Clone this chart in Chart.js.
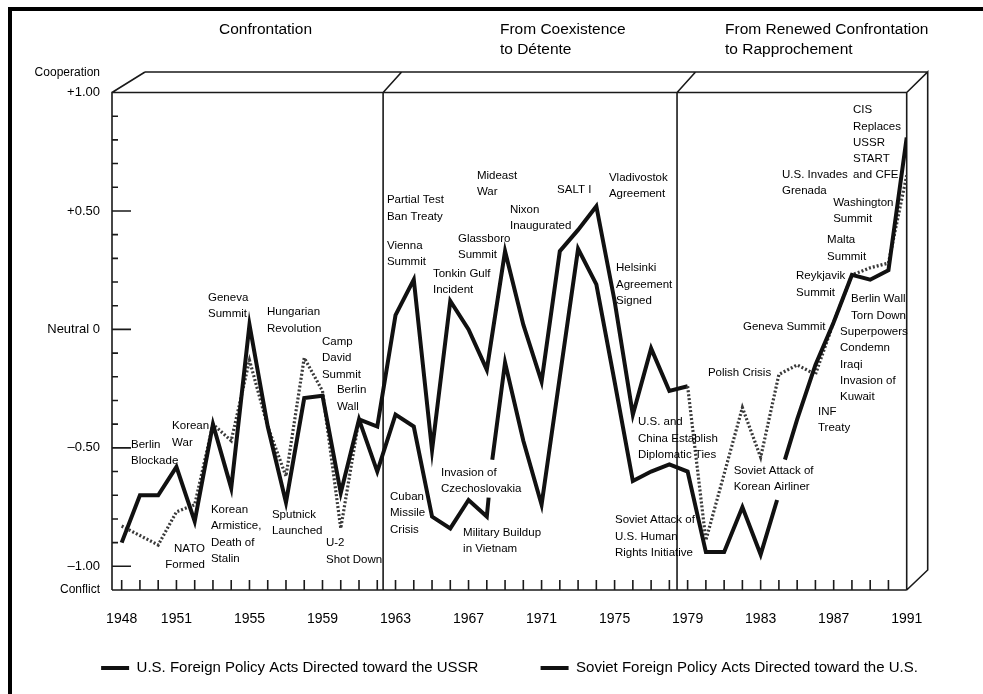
<!DOCTYPE html>
<html>
<head>
<meta charset="utf-8">
<script src="https://cdn.jsdelivr.net/npm/chart.js@4.4.0/dist/chart.umd.min.js"></script>
<style>
  html, body { margin: 0; padding: 0; background: #fff; }
  canvas { display: block; }
</style>
</head>
<body>
<canvas id="chart" width="983" height="694"></canvas>
<script>
// values, -1 = conflict, +1 = cooperation
const sovYears = [1948, 1949, 1950, 1951, 1952, 1953, 1954, 1955, 1956, 1957, 1958, 1959, 1960, 1961,
  1962, 1963, 1964, 1965, 1966, 1967, 1968, 1969, 1970, 1971, 1972, 1973, 1974, 1975, 1976, 1977,
  1978, 1979, 1980, 1981, 1982, 1983, 1984, 1985, 1986, 1987, 1988, 1989, 1990, 1991];
const sovValues = [-0.83, -0.87, -0.91, -0.77, -0.74, -0.40, -0.47, -0.13, -0.41, -0.62, -0.12, -0.26, -0.84, -0.38,
  -0.41, 0.06, 0.21, -0.51, 0.12, 0.00, -0.17, 0.33, 0.02, -0.22, 0.33, 0.42, 0.52, 0.12, -0.36, -0.08,
  -0.26, -0.24, -0.89, -0.61, -0.33, -0.54, -0.19, -0.15, -0.19, 0.03, 0.23, 0.26, 0.28, 0.65];

// the U.S. line has two breaks in the scan (1968 and 1983-84)
const usYears = [1948, 1949, 1950, 1951, 1952, 1953, 1954, 1955, 1956, 1957, 1958, 1959, 1960, 1961,
  1962, 1963, 1964, 1965, 1966, 1967, 1968, 1968.1, 1968.2, 1968.3, 1969, 1970, 1971, 1972, 1973, 1974,
  1975, 1976, 1977, 1978, 1979, 1980, 1981, 1982, 1983, 1983.9, 1984.1, 1984.33, 1985, 1986, 1987,
  1988, 1989, 1990, 1991];
const usValues = [-0.90, -0.70, -0.70, -0.58, -0.81, -0.40, -0.67, 0.02, -0.41, -0.73, -0.29, -0.28, -0.69, -0.38,
  -0.60, -0.36, -0.41, -0.79, -0.84, -0.72, -0.79, -0.71, null, -0.55, -0.14, -0.47, -0.74, -0.20, 0.34, 0.19,
  -0.22, -0.64, -0.60, -0.57, -0.60, -0.94, -0.94, -0.75, -0.95, -0.72, null, -0.55, -0.38, -0.15, 0.03,
  0.23, 0.21, 0.25, 0.81];

const seriesNames = ['U.S. Foreign Policy Acts Directed toward the USSR',
  'Soviet Foreign Policy Acts Directed toward the U.S.'];

const tickYears = [1948, 1951, 1955, 1959, 1963, 1967, 1971, 1975, 1979, 1983, 1987, 1991];
const yTickValues = [-1, -0.5, 0, 0.5, 1];
const yTickText = ['\u20131.00', '\u20130.50', 'Neutral 0', '+0.50', '+1.00'];

const periodBreaks = [1962.32, 1978.42];
const periods = [
  { x: 1953.33, lines: ['Confrontation'] },
  { x: 1968.72, lines: ['From Coexistence', 'to D\u00e9tente'] },
  { x: 1981.05, lines: ['From Renewed Confrontation', 'to Rapprochement'] }
];

// event labels, anchored in year / score units
const notes = [
  { x: 1948.51, y: -0.488, t: ['Berlin', 'Blockade'] },
  { x: 1950.76, y: -0.408, t: ['Korean', 'War'] },
  { x: 1952.56, y: -0.927, t: ['NATO', 'Formed'], align: 'right' },
  { x: 1952.73, y: 0.133, t: ['Geneva', 'Summit'] },
  { x: 1955.96, y: 0.073, t: ['Hungarian', 'Revolution'] },
  { x: 1952.89, y: -0.762, t: ['Korean', 'Armistice,', 'Death of', 'Stalin'] },
  { x: 1956.23, y: -0.783, t: ['Sputnick', 'Launched'] },
  { x: 1958.97, y: -0.053, t: ['Camp', 'David', 'Summit'] },
  { x: 1959.79, y: -0.256, t: ['Berlin', 'Wall'] },
  { x: 1959.19, y: -0.902, t: ['U-2', 'Shot Down'] },
  { x: 1962.53, y: 0.546, t: ['Partial Test', 'Ban Treaty'] },
  { x: 1962.53, y: 0.352, t: ['Vienna', 'Summit'] },
  { x: 1965.05, y: 0.234, t: ['Tonkin Gulf', 'Incident'] },
  { x: 1966.42, y: 0.382, t: ['Glassboro', 'Summit'] },
  { x: 1967.46, y: 0.648, t: ['Mideast', 'War'] },
  { x: 1969.27, y: 0.504, t: ['Nixon', 'Inaugurated'] },
  { x: 1971.85, y: 0.588, t: ['SALT I'] },
  { x: 1974.69, y: 0.639, t: ['Vladivostok', 'Agreement'] },
  { x: 1975.08, y: 0.259, t: ['Helsinki', 'Agreement', 'Signed'] },
  { x: 1976.28, y: -0.391, t: ['U.S. and', 'China Establish', 'Diplomatic Ties'] },
  { x: 1965.49, y: -0.606, t: ['Invasion of', 'Czechoslovakia'] },
  { x: 1962.70, y: -0.707, t: ['Cuban', 'Missile', 'Crisis'] },
  { x: 1966.70, y: -0.859, t: ['Military Buildup', 'in Vietnam'] },
  { x: 1975.02, y: -0.805, t: ['Soviet Attack of', 'U.S. Human', 'Rights Initiative'] },
  { x: 1988.06, y: 0.926, t: ['CIS', 'Replaces', 'USSR', 'START', 'and CFE'] },
  { x: 1984.17, y: 0.652, t: ['U.S. Invades', 'Grenada'] },
  { x: 1986.97, y: 0.534, t: ['Washington', 'Summit'] },
  { x: 1986.64, y: 0.377, t: ['Malta', 'Summit'] },
  { x: 1984.94, y: 0.225, t: ['Reykjavik', 'Summit'] },
  { x: 1987.95, y: 0.128, t: ['Berlin Wall', 'Torn Down'] },
  { x: 1987.35, y: -0.011, t: ['Superpowers', 'Condemn', 'Iraqi', 'Invasion of', 'Kuwait'] },
  { x: 1982.03, y: 0.010, t: ['Geneva Summit'] },
  { x: 1980.11, y: -0.184, t: ['Polish Crisis'] },
  { x: 1986.14, y: -0.348, t: ['INF', 'Treaty'] },
  { x: 1981.52, y: -0.597, t: ['Soviet Attack of', 'Korean Airliner'] }
];

const FONT = '"Liberation Sans", Arial, sans-serif';
Chart.defaults.font.family = FONT;
Chart.defaults.color = '#000';

const toPoints = (xs, ys) => xs.map((x, i) => ({ x: x, y: ys[i] }));

// the soviet line is solid through the middle period, hatched elsewhere
const inMiddle = ctx => ctx.p0.parsed.x >= 1961 && ctx.p1.parsed.x <= 1979;

const boxPlugin = {
  id: 'box',
  beforeDatasetsDraw(chart) {
    const { ctx, chartArea: a, scales: { x, y } } = chart;
    const top = a.top, bot = a.bottom, left = a.left, right = a.right;
    const backTop = top - 20.5;
    ctx.save();
    ctx.strokeStyle = '#1a1a1a';
    ctx.lineWidth = 1.6;
    ctx.beginPath();
    // front face
    ctx.moveTo(left, bot); ctx.lineTo(left, top); ctx.lineTo(right, top); ctx.lineTo(right, bot);
    ctx.moveTo(left, bot); ctx.lineTo(right, bot);
    // back edge and depth lines
    ctx.moveTo(left + 33, backTop); ctx.lineTo(right + 21, backTop);
    ctx.moveTo(left, top); ctx.lineTo(left + 33, backTop);
    ctx.moveTo(right, top); ctx.lineTo(right + 21, backTop);
    ctx.lineTo(right + 21, bot - 20); ctx.lineTo(right, bot);
    periodBreaks.forEach(b => {
      const px = x.getPixelForValue(b);
      ctx.moveTo(px, bot); ctx.lineTo(px, top); ctx.lineTo(px + 18.5, backTop);
    });
    // inward ticks
    for (let i = -10; i <= 10; i++) {
      const py = y.getPixelForValue(i / 10);
      ctx.moveTo(left, py); ctx.lineTo(left + (i % 5 === 0 ? 19 : 6), py);
    }
    for (let yr = 1948; yr <= 1990; yr++) {
      const px = x.getPixelForValue(yr);
      ctx.moveTo(px, bot); ctx.lineTo(px, bot - 10);
    }
    ctx.stroke();
    ctx.restore();
  },
  afterDraw(chart) {
    const { ctx, scales: { x, y } } = chart;
    ctx.save();
    // page frame
    ctx.strokeStyle = '#000';
    ctx.lineWidth = 4;
    ctx.beginPath();
    ctx.moveTo(10, 694); ctx.lineTo(10, 9); ctx.lineTo(983, 9);
    ctx.stroke();

    ctx.fillStyle = '#000';
    ctx.textBaseline = 'middle';
    // period headings
    ctx.font = '15.5px ' + FONT;
    ctx.textAlign = 'left';
    periods.forEach(p => {
      p.lines.forEach((s, k) => ctx.fillText(s, x.getPixelForValue(p.x), 30 + k * 20));
    });
    // axis end words
    ctx.font = '12px ' + FONT;
    ctx.textAlign = 'right';
    ctx.fillText('Cooperation', 100, y.getPixelForValue(1.082));
    ctx.fillText('Conflict', 100, y.getPixelForValue(-1.1));
    // event labels
    ctx.font = '11.5px ' + FONT;
    notes.forEach(n => {
      ctx.textAlign = n.align || 'left';
      const px = x.getPixelForValue(n.x);
      const py = y.getPixelForValue(n.y);
      n.t.forEach((s, k) => ctx.fillText(s, px, py + k * 16.3));
    });
    ctx.restore();
  }
};

new Chart(document.getElementById('chart'), {
  type: 'line',
  data: {
    datasets: [
      {
        label: seriesNames[0],
        data: toPoints(usYears, usValues),
        borderColor: '#111',
        backgroundColor: '#111',
        borderWidth: 4,
        pointRadius: 0,
        tension: 0,
        spanGaps: false
      },
      {
        label: seriesNames[1],
        data: toPoints(sovYears, sovValues),
        borderColor: '#3a3a3a',
        backgroundColor: '#111',
        borderWidth: 3.2,
        borderDash: [2, 2],
        pointRadius: 0,
        tension: 0,
        segment: {
          borderColor: c => inMiddle(c) ? '#111' : '#3a3a3a',
          borderDash: c => inMiddle(c) ? [] : [2, 2],
          borderWidth: c => inMiddle(c) ? 4 : 3.2
        }
      }
    ]
  },
  options: {
    responsive: false,
    animation: false,
    devicePixelRatio: 1,
    layout: { padding: { top: 92.5, left: 36, right: 0, bottom: 8.5 } },
    plugins: {
      tooltip: { enabled: false },
      legend: {
        position: 'bottom',
        labels: {
          boxWidth: 28,
          boxHeight: 4,
          padding: 20.5,
          color: '#000',
          font: { size: 15 },
          // first entry is padded so the second sits where the scan has it
          generateLabels: chart => chart.data.datasets.map((d, i) => ({
            text: d.label + (i === 0 ? ' '.repeat(10) : ''),
            fillStyle: '#111', strokeStyle: '#111', lineWidth: 0,
            hidden: false, datasetIndex: i
          }))
        }
      }
    },
    scales: {
      x: {
        type: 'linear',
        min: 1947.47,
        max: 1991,
        grid: { display: false, drawTicks: false },
        border: { display: false },
        afterBuildTicks: s => { s.ticks = tickYears.map(v => ({ value: v })); },
        afterFit: s => { s.height = 50; },
        ticks: {
          autoSkip: false,
          maxRotation: 0,
          padding: 21,
          color: '#000',
          font: { size: 14 },
          callback: v => String(v)
        }
      },
      y: {
        type: 'linear',
        min: -1.1,
        max: 1.0,
        grid: { display: false, drawTicks: false },
        border: { display: false },
        afterBuildTicks: s => { s.ticks = yTickValues.map(v => ({ value: v })); },
        afterFit: s => { s.width = 76; },
        ticks: {
          padding: 12,
          color: '#000',
          font: { size: 13 },
          callback: v => yTickText[yTickValues.indexOf(v)]
        }
      },
      yr: {
        position: 'right',
        min: 0,
        max: 1,
        grid: { display: false, drawTicks: false },
        border: { display: false },
        ticks: { display: false },
        afterFit: s => { s.width = 76.3; }
      }
    }
  },
  plugins: [boxPlugin]
});
</script>
</body>
</html>
